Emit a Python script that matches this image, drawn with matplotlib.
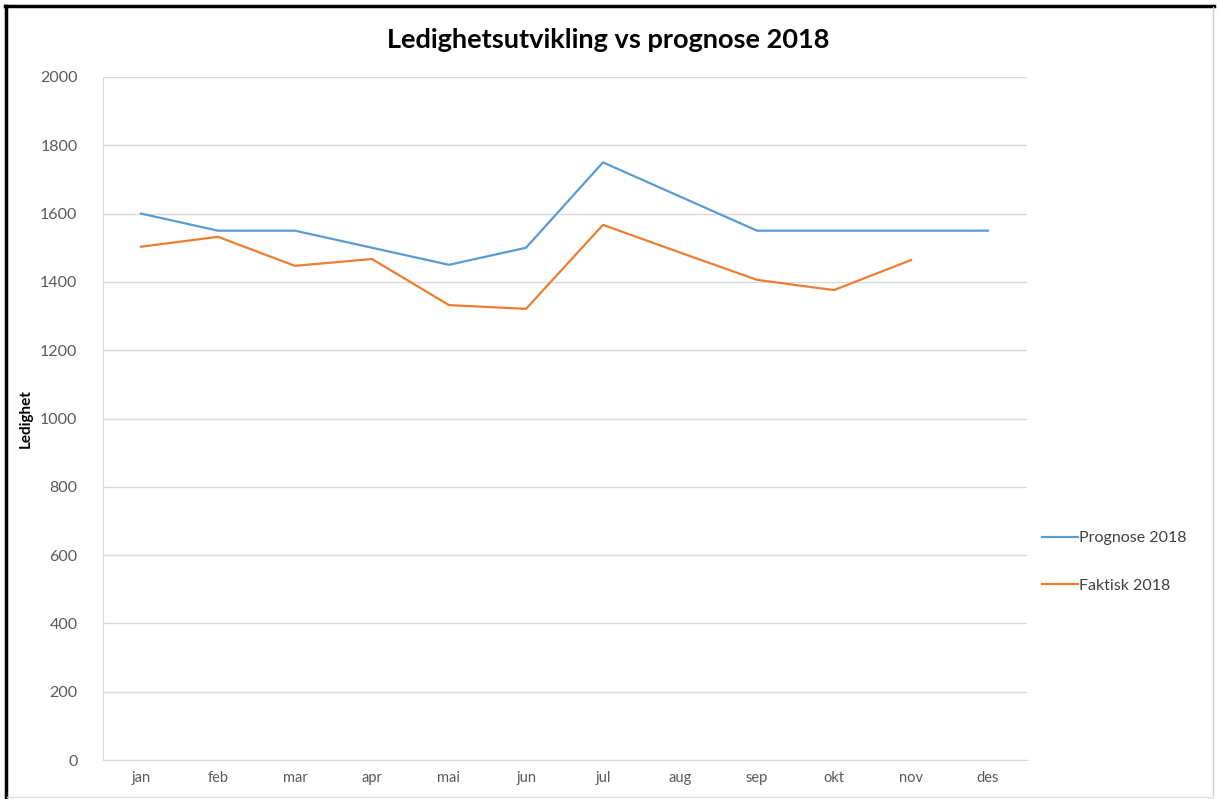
import matplotlib
matplotlib.use("Agg")
import matplotlib.pyplot as plt
from matplotlib.lines import Line2D

months = ["jan", "feb", "mar", "apr", "mai", "jun", "jul", "aug", "sep", "okt", "nov", "des"]
prognose = [1600, 1550, 1550, 1500, 1450, 1500, 1750, 1650, 1550, 1550, 1550, 1550]
faktisk = [1503, 1532, 1447, 1467, 1332, 1321, 1567, 1486, 1406, 1376, 1464]
yticks = [0, 200, 400, 600, 800, 1000, 1200, 1400, 1600, 1800, 2000]

plt.rcParams['font.family'] = ['Lato', 'DejaVu Sans']

W, H = 1217, 799
fig = plt.figure(figsize=(W / 100, H / 100), dpi=100)
ax = fig.add_axes([102.5 / W, 1 - 760 / H, (1026.5 - 102.5) / W, (760 - 77) / H])

x = list(range(len(months)))
ax.plot(x, prognose, color="#5B9BD5", lw=1.6, label="Prognose 2018", solid_joinstyle="round")
ax.plot(x[:len(faktisk)], faktisk, color="#ED7D31", lw=1.6, label="Faktisk 2018", solid_joinstyle="round")

ax.set_xlim(-0.5, len(months) - 0.5)
ax.set_ylim(0, 2000)
ax.set_yticks(yticks)
ax.set_yticklabels([str(v) for v in yticks], fontsize=11.5, color="#595959")
ax.set_xticks(x)
ax.set_xticklabels(months, fontsize=10.5, color="#595959")
ax.tick_params(axis="both", length=0, pad=8)
ax.tick_params(axis="y", pad=18)
ax.grid(axis="y", color="#D9D9D9", lw=1)
ax.set_axisbelow(True)
for s in ["top", "right"]:
    ax.spines[s].set_visible(False)
ax.spines["left"].set_color("#D9D9D9")
ax.spines["bottom"].set_color("#D9D9D9")

ax.set_ylabel("Ledighet", fontsize=11, fontweight="bold", color="#000000")
ax.yaxis.set_label_coords(-70 / (1026.5 - 102.5), 0.5)

fig.text(608 / W, 1 - 40 / H, "Ledighetsutvikling vs prognose 2018", ha="center", va="center",
         fontsize=19.5, fontweight="bold", color="#000000")

leg = ax.legend(loc="center left", bbox_to_anchor=(1028 / W, 1 - 562 / H), bbox_transform=fig.transFigure,
                frameon=False, fontsize=11.5, handlelength=2.2, handletextpad=0.1, labelspacing=2.1)
for t in leg.get_texts():
    t.set_color("#404040")

# outer border: black top and left, light gray right and bottom
fig.add_artist(Line2D([6 / W, 6 / W], [0, 1 - 6 / H], transform=fig.transFigure, color="#000000", lw=2.5))
fig.add_artist(Line2D([5 / W, 1214 / W], [1 - 6 / H, 1 - 6 / H], transform=fig.transFigure, color="#000000", lw=2.5))
fig.add_artist(Line2D([1213 / W, 1213 / W], [2 / H, 1 - 7 / H], transform=fig.transFigure, color="#D0D0D0", lw=1))
fig.add_artist(Line2D([7 / W, 1213 / W], [2 / H, 2 / H], transform=fig.transFigure, color="#E0E0E0", lw=1))

fig.savefig("out.png", dpi=100)
